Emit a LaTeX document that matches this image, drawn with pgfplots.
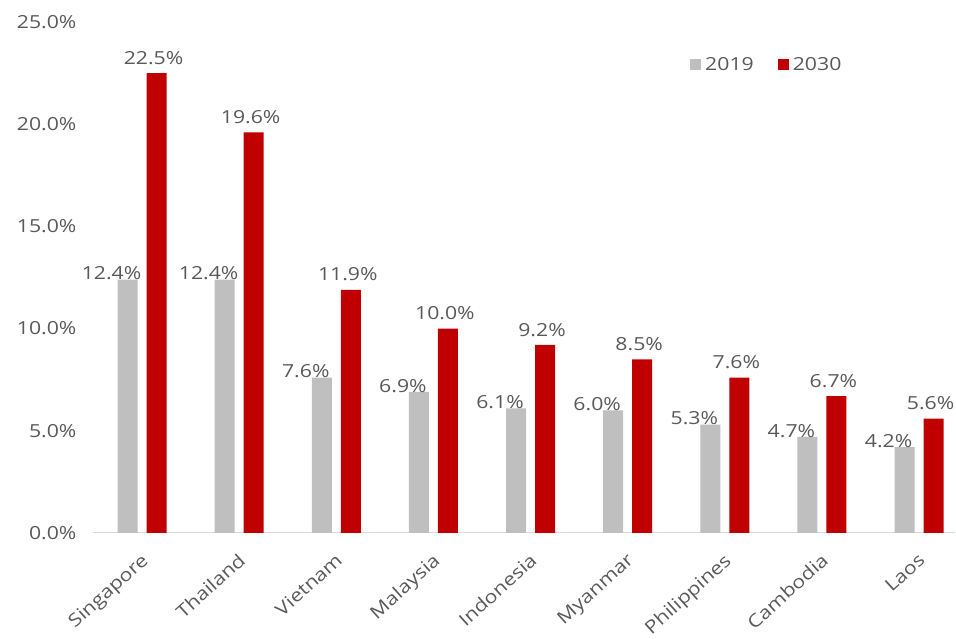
\documentclass[border=0pt]{standalone}
\usepackage{fontspec}
\setmainfont{Open Sans}[FakeStretch=1.18]
\usepackage{pgfplots}
\pgfplotsset{compat=1.18}
\definecolor{barGray}{HTML}{BFBFBF}
\definecolor{barRed}{HTML}{C00000}
\definecolor{txtGray}{HTML}{595959}
\definecolor{axGray}{HTML}{D9D9D9}
\begin{document}
\begin{tikzpicture}
\useasboundingbox (0,0) rectangle (956pt,639pt);
\begin{axis}[
  at={(93pt,106pt)}, anchor=south west,
  scale only axis, width=862pt, height=511pt,
  /pgf/number format/assume math mode=true,
  font=\fontsize{18}{21}\selectfont\color{txtGray},
  ymin=0, ymax=25, xmin=-0.505, xmax=8.37,
  axis x line=bottom, axis y line=left,
  x axis line style={-, draw=axGray, line width=1pt},
  y axis line style={-, draw=none},
  ytick={0,5,10,15,20,25},
  yticklabel={\pgfmathprintnumber[fixed,fixed zerofill,precision=1]{\tick}\%},
  yticklabel style={anchor=east, xshift=-13pt},
  xtick={0,...,8},
  xticklabels={Singapore,Thailand,Vietnam,Malaysia,Indonesia,Myanmar,Philippines,Cambodia,Laos},
  xticklabel style={rotate=42, anchor=north east, inner sep=1pt, yshift=-12pt, xshift=-13pt},
  major tick length=0pt,
  ybar, bar width=20pt,
  point meta=y,
  nodes near coords={\pgfmathprintnumber[fixed,fixed zerofill,precision=1]{\pgfplotspointmeta}\%},
  legend style={at={(0.6926,0.916)}, anchor=west, draw=none, fill=none,
    legend columns=2, /tikz/every even column/.append style={column sep=20pt},
    font=\fontsize{18}{21}\selectfont\color{txtGray}, inner sep=0pt,
    nodes={inner xsep=4pt}},
  legend image code/.code={\fill[#1] (0pt,-5.5pt) rectangle (11pt,5.5pt);},
]
\addplot[fill=barGray, draw=none, bar shift=-14.5pt,
  nodes near coords style={anchor=south, xshift=-16pt, yshift=-4pt, color=txtGray}]
  coordinates {(0,12.4) (1,12.4) (2,7.6) (3,6.9) (4,6.1) (5,6.0) (6,5.3) (7,4.7) (8,4.2)};
\addplot[fill=barRed, draw=none, bar shift=14.5pt,
  nodes near coords style={anchor=south, xshift=-3pt, yshift=5pt, color=txtGray}]
  coordinates {(0,22.5) (1,19.6) (2,11.9) (3,10.0) (4,9.2) (5,8.5) (6,7.6) (7,6.7) (8,5.6)};
\legend{2019,2030}
\end{axis}
\end{tikzpicture}
\end{document}
